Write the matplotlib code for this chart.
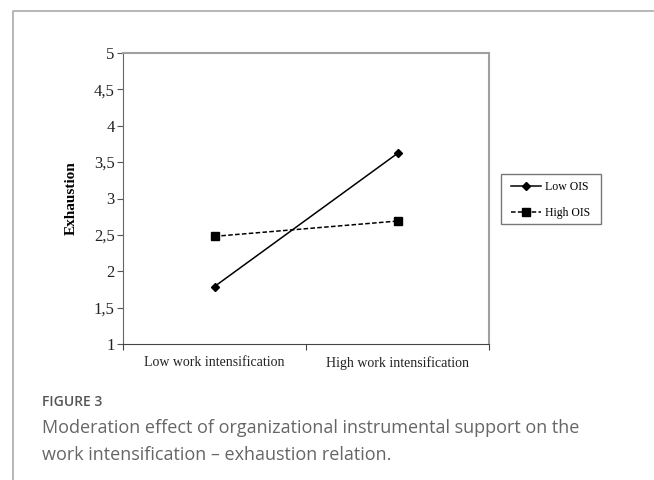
import matplotlib.pyplot as plt
from matplotlib.patches import Rectangle

# data
categories = ["Low work intensification", "High work intensification"]
low_ois = [1.79, 3.62]
high_ois = [2.48, 2.69]
y_ticks = [1, 1.5, 2, 2.5, 3, 3.5, 4, 4.5, 5]
y_tick_labels = ["1", "1,5", "2", "2,5", "3", "3,5", "4", "4,5", "5"]

W, H = 654, 480
fig = plt.figure(figsize=(W / 100, H / 100), dpi=100)


def fx(px):
    return px / W


def fy(py):
    return 1 - py / H


# outer panel frame (left + top only visible)
fig.add_artist(plt.Line2D([fx(13), fx(13), 1.0], [0.0, fy(11), fy(11)],
                          transform=fig.transFigure, color="#aaaaaa", lw=1.2))

ax = fig.add_axes([fx(123), fy(344), fx(489 - 123), (344 - 53) / H])
serif = "Liberation Serif"
x = [0, 1]
ax.plot(x, low_ois, color="black", lw=1.1, marker="D", markersize=4.5,
        label="Low OIS")
ax.plot(x, high_ois, color="black", lw=1.1, ls=(0, (3, 1.5)), marker="s",
        markersize=6, label="High OIS")

ax.set_xlim(-0.5, 1.5)
ax.set_ylim(1, 5)
ax.set_yticks(y_ticks)
ax.set_yticklabels(y_tick_labels, fontfamily=serif, fontsize=12, color="#222222")
ax.set_xticks([-0.5, 0.5, 1.5])
ax.set_xticklabels([])
ax.set_xticks(x, minor=True)
ax.set_xticklabels(categories, minor=True, fontfamily=serif, fontsize=10,
                   color="#222222")
ax.tick_params(axis="x", which="minor", length=0, pad=9)
ax.tick_params(axis="x", which="major", length=4, direction="out", color="#444444")
ax.tick_params(axis="y", length=4, direction="out", color="#555555", pad=2)

for side in ["top", "right"]:
    ax.spines[side].set_color("#a0a0a0")
    ax.spines[side].set_linewidth(1.5)
ax.spines["left"].set_color("#666666")
ax.spines["bottom"].set_color("#444444")

ax.set_ylabel("Exhaustion", fontfamily=serif, fontweight="bold", fontsize=11)
ax.yaxis.set_label_coords(-0.123, 0.5)

# legend box drawn by hand, legend entries placed inside it
fig.add_artist(Rectangle((fx(501), fy(224)), fx(100), 50 / H,
                         transform=fig.transFigure, fill=False,
                         edgecolor="#777777", lw=1.0))
fig.legend(loc="upper left", bbox_to_anchor=(fx(511), fy(181)),
           prop={"family": serif, "size": 8.5}, frameon=False,
           handlelength=2.5, borderpad=0, labelspacing=1.2,
           handletextpad=0.35, borderaxespad=0)

fig.text(fx(42), fy(406), "FIGURE 3", fontfamily="Open Sans", fontsize=10,
         fontweight="semibold", color="#555555", va="baseline")
fig.text(fx(42), fy(433),
         "Moderation effect of organizational instrumental support on the",
         fontfamily="Open Sans", fontsize=13, color="#666666", va="baseline")
fig.text(fx(42), fy(460), "work intensification \u2013 exhaustion relation.",
         fontfamily="Open Sans", fontsize=13, color="#666666", va="baseline")

fig.savefig("out.png", dpi=100)
